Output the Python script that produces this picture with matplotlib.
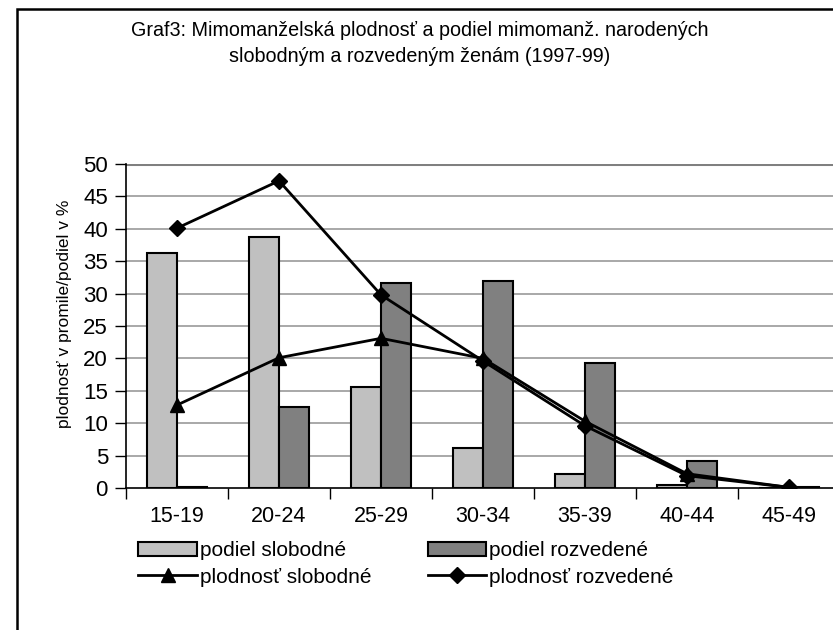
import matplotlib
matplotlib.use("Agg")
import matplotlib.pyplot as plt
import numpy as np
from matplotlib.patches import Rectangle

# age groups and values
ages = ["15-19", "20-24", "25-29", "30-34", "35-39", "40-44", "45-49"]
podiel_slobodne = [36.3, 38.7, 15.6, 6.1, 2.2, 0.5, 0.0]
podiel_rozvedene = [0.1, 12.5, 31.6, 32.0, 19.3, 4.2, 0.2]
plodnost_slobodne = [12.8, 20.1, 23.1, 20.0, 10.3, 2.2, 0.1]
plodnost_rozvedene = [40.1, 47.4, 29.8, 19.6, 9.6, 1.9, 0.1]

plt.rcParams["font.family"] = ["Liberation Sans", "DejaVu Sans"]

W, H = 833, 630
fig = plt.figure(figsize=(W / 100, H / 100), dpi=100)

# outer chart border (cropped on right/bottom)
fig.patches.append(Rectangle((17 / W, -0.05), 1.2, 1 - 9 / H + 0.05,
                             transform=fig.transFigure, fill=False,
                             edgecolor="black", linewidth=1.8))

ax = fig.add_axes([126 / W, 1 - 488 / H, 714 / W, 324 / H])

x = np.arange(len(ages))
bw = 0.294
ax.bar(x - bw / 2, podiel_slobodne, bw, color="#c0c0c0", edgecolor="black",
       linewidth=1.5, label="podiel slobodné", zorder=2)
ax.bar(x + bw / 2, podiel_rozvedene, bw, color="#808080", edgecolor="black",
       linewidth=1.5, label="podiel rozvedené", zorder=2)
ax.plot(x, plodnost_slobodne, color="black", lw=2, marker="^", ms=10,
        label="plodnosť slobodné", zorder=3)
ax.plot(x, plodnost_rozvedene, color="black", lw=2, marker="D", ms=8,
        label="plodnosť rozvedené", zorder=3)

ax.set_xlim(-0.5, len(ages) - 0.5)
ax.set_ylim(0, 50)
ax.set_yticks(np.arange(0, 51, 5))
for yv in np.arange(5, 50, 5):
    ax.axhline(yv, color="#999999", lw=1.2, zorder=1)
ax.axhline(50, color="#808080", lw=2.2, zorder=1)

ax.set_xticks(x)
ax.set_xticklabels(ages)
ax.set_xticks(np.arange(-0.5, len(ages), 1), minor=True)
ax.tick_params(axis="x", which="major", length=0, pad=13, labelsize=15.5)
ax.tick_params(axis="x", which="minor", length=8, width=1, direction="out")
ax.tick_params(axis="y", length=8, width=1, direction="out", pad=5, labelsize=16)

for s in ["top", "right"]:
    ax.spines[s].set_visible(False)
ax.spines["left"].set_linewidth(1.2)
ax.spines["bottom"].set_linewidth(1.2)

ax.set_ylabel("plodnosť v promile/podiel v %", fontsize=12.5)
ax.yaxis.set_label_coords((72 - 126) / 714, (488 - 314) / 324)

fig.text(420 / W, 1 - 30 / H, "Graf3: Mimomanželská plodnosť a podiel mimomanž. narodených",
         ha="center", va="center", fontsize=14.2)
fig.text(420 / W, 1 - 56 / H, "slobodným a rozvedeným ženám (1997-99)",
         ha="center", va="center", fontsize=14.2)

h, l = ax.get_legend_handles_labels()
order = [2, 0, 3, 1]
fig.legend([h[i] for i in order], [l[i] for i in order], ncol=2,
           loc="upper left", bbox_to_anchor=(128 / W, 1 - 531 / H),
           frameon=False, fontsize=15, handlelength=2.8, handleheight=0.7,
           handletextpad=0.15, columnspacing=2.7, labelspacing=0.35,
           borderpad=0)

fig.savefig("out.png", dpi=100)
